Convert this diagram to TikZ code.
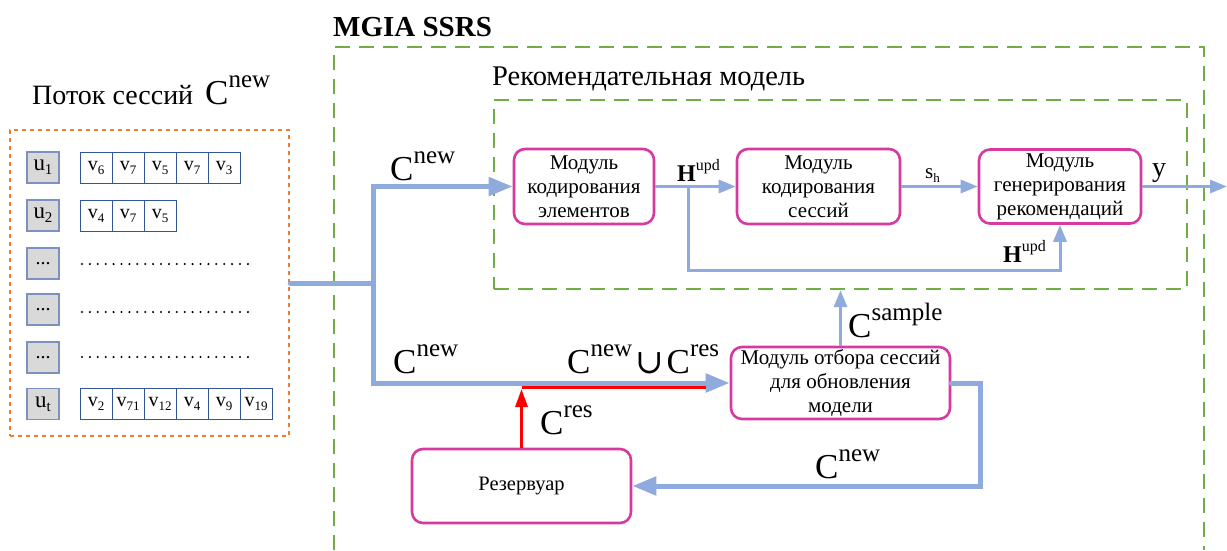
\documentclass[tikz,border=0pt]{standalone}
\usepackage{fontspec}
\setmainfont{Liberation Serif}
\newfontfamily\titlefont{Liberation Serif}
\newfontfamily\opfont{DejaVu Serif}
\usetikzlibrary{arrows.meta}

\definecolor{flow}{RGB}{143,170,220}
\definecolor{modline}{RGB}{214,58,160}
\definecolor{grpline}{RGB}{112,173,71}
\definecolor{streamline}{RGB}{237,125,49}
\definecolor{cellline}{RGB}{47,85,151}
\definecolor{userline}{RGB}{124,145,190}
\definecolor{userfill}{RGB}{217,217,217}

\newcommand{\setfs}[2]{\fontsize{#1}{#2}\selectfont}
% lowered index, e.g. v_6
\newcommand{\lowr}[1]{\raisebox{-4pt}{\setfs{13}{13}#1}}
\newcommand{\lowru}[1]{\raisebox{-4pt}{\setfs{15}{15}#1}}
% big C with a raised tag
\newcommand{\Clab}[1]{{\setfs{35}{40}C}\raisebox{17pt}{\setfs{25}{28}#1}}
% bold H with a raised tag
\newcommand{\Hlab}[1]{{\setfs{24}{28}\bfseries H}\raisebox{11pt}{\setfs{16}{18}#1}}

\tikzset{
  modbox/.style={draw=modline, line width=2.6pt, rounded corners=11pt, fill=white,
    align=center, inner sep=2pt, font=\setfs{21}{24}},
  grpbox/.style={draw=grpline, line width=2.4pt, dash pattern=on 15pt off 9pt},
  streambox/.style={draw=streamline, line width=2.4pt, dash pattern=on 4pt off 4pt},
  userbox/.style={draw=userline, line width=1.2pt, fill=userfill, minimum width=32pt,
    minimum height=31pt, inner sep=0pt, font=\setfs{23}{26}},
  cell/.style={draw=cellline, line width=1pt, minimum width=32pt, minimum height=31pt,
    inner sep=0pt, font=\setfs{20}{24}},
  fat/.style={draw=flow, line width=5pt, -{Triangle[length=24pt,width=18pt]}},
  slim/.style={draw=flow, line width=3pt, -{Triangle[length=17pt,width=13pt]}},
  hot/.style={draw=red, line width=3.2pt},
  hotarrow/.style={hot, -{Triangle[length=18pt,width=12pt]}},
  lab/.style={inner sep=0pt, anchor=base west},
  dotrow/.style={line width=2.3pt, line cap=round, dash pattern=on 0pt off 7.9pt},
}

\begin{document}
\begin{tikzpicture}[x=1pt,y=-1pt]
\useasboundingbox (0,0) rectangle (1227,550);

% ---------- session stream ----------
\node[lab] (streamtitle) at (32,104) {\titlefont\setfs{28}{30}Поток сессий\hspace{12pt}\Clab{new}};
\node[streambox, minimum width=279pt, minimum height=306pt] (stream) at (149.5,283) {};

\node[userbox] (u1) at (43,167.5) {u\lowru{1}};
\node[userbox] (u2) at (43,215.5) {u\lowru{2}};
\node[userbox, font=\setfs{20}{24}] (u3) at (43,263.5) {...};
\node[userbox, font=\setfs{20}{24}] (u4) at (43,309.5) {...};
\node[userbox, font=\setfs{20}{24}] (u5) at (43,357.5) {...};
\node[userbox] (ut) at (43,404) {u\lowru{t}};

\foreach \i/\s in {0/6,1/7,2/5,3/7,4/3}
  \node[cell] (a\i) at (96+32*\i,167.5) {v\lowr{\s}};
\foreach \i/\s in {0/4,1/7,2/5}
  \node[cell] (b\i) at (96+32*\i,215.5) {v\lowr{\s}};
\foreach \i/\s in {0/2,1/71,2/12,3/4,4/9,5/19}
  \node[cell] (t\i) at (96+32*\i,404) {v\lowr{\s}};

\foreach \y in {264,312,357}
  \draw[dotrow] (82,\y) -- (250,\y);

% ---------- MGIA SSRS frame ----------
\node[lab, font=\titlefont\setfs{29}{32}\bfseries] (systitle) at (333,36) {MGIA SSRS};
\draw[grpbox] (334,550) -- (334,47) -- (1204,47) -- (1204,550);

\node[lab, font=\titlefont\setfs{28.5}{30}] (rmtitle) at (492,85) {Рекомендательная модель};
\node[grpbox, minimum width=693pt, minimum height=189pt, inner sep=0pt] (rm) at (840.5,194.5) {};

% ---------- modules ----------
\node[modbox, minimum width=140pt, minimum height=75pt] (enc) at (584,186.5)
  {Модуль\\кодирования\\элементов};
\node[modbox, minimum width=163pt, minimum height=75pt] (ses) at (818.5,186.5)
  {Модуль\\кодирования\\сессий};
\node[modbox, minimum width=162pt, minimum height=74pt] (gen) at (1060,186.5)
  {Модуль\\генерирования\\рекомендаций};
\node[modbox, minimum width=219pt, minimum height=72pt] (sel) at (840.5,383)
  {Модуль отбора сессий\\для обновления\\модели};
\node[modbox, minimum width=219pt, minimum height=74pt, font=\setfs{20.5}{23}] (res) at (521.5,486)
  {Резервуар};

% ---------- connectors ----------
\coordinate (split) at (373,283);
\draw[fat, line cap=round] (stream.east) -- (split) |- (enc.west);
\draw[fat] (split) |- (sel.west);

\coordinate (hbranch) at (688,186.5);
\coordinate (hlow) at (688,270);
\draw[slim] (enc.east) -- (ses.west);
\draw[slim] (hbranch) -- (hlow) -| (gen.south);
\draw[slim] (ses.east) -- (gen.west);
\coordinate (yout) at (1227,186.5);
\draw[slim] (gen.east) -- (yout);

\draw[slim] (sel.north) -- (sel.north |- rm.south);

\coordinate (rturn) at (980,383);
\draw[fat, line cap=round] (sel.east) -- (rturn) |- (res.east);

\coordinate (rjoin) at (521.5,387.5);
\coordinate (rend) at (706,387.5);
\draw[hot] (rjoin) -- (rend);
\draw[hotarrow] (res.north) -- ([yshift=-1.5pt]rjoin);

% ---------- labels ----------
\node[lab] (l1) at (390,180) {\Clab{new}};
\node[lab] (l2) at (393,373) {\Clab{new}};
\node[lab] (l3) at (567,373) {\Clab{new}\hspace{3pt}{\opfont\setfs{34}{36}∪}\hspace{3pt}\Clab{res}};
\node[lab] (l4) at (540,434) {\Clab{res}};
\node[lab] (l5) at (848,337) {\Clab{sample}};
\node[lab] (l6) at (815,478) {\Clab{new}};
\node[lab] (l7) at (677,181) {\Hlab{upd}};
\node[lab] (l8) at (1003,262) {\Hlab{upd}};
\node[lab] (l9) at (925,178) {\setfs{21}{24}s\lowr{h}};
\node[lab] (l10) at (1152,176) {\setfs{28}{30}y};
\end{tikzpicture}
\end{document}
